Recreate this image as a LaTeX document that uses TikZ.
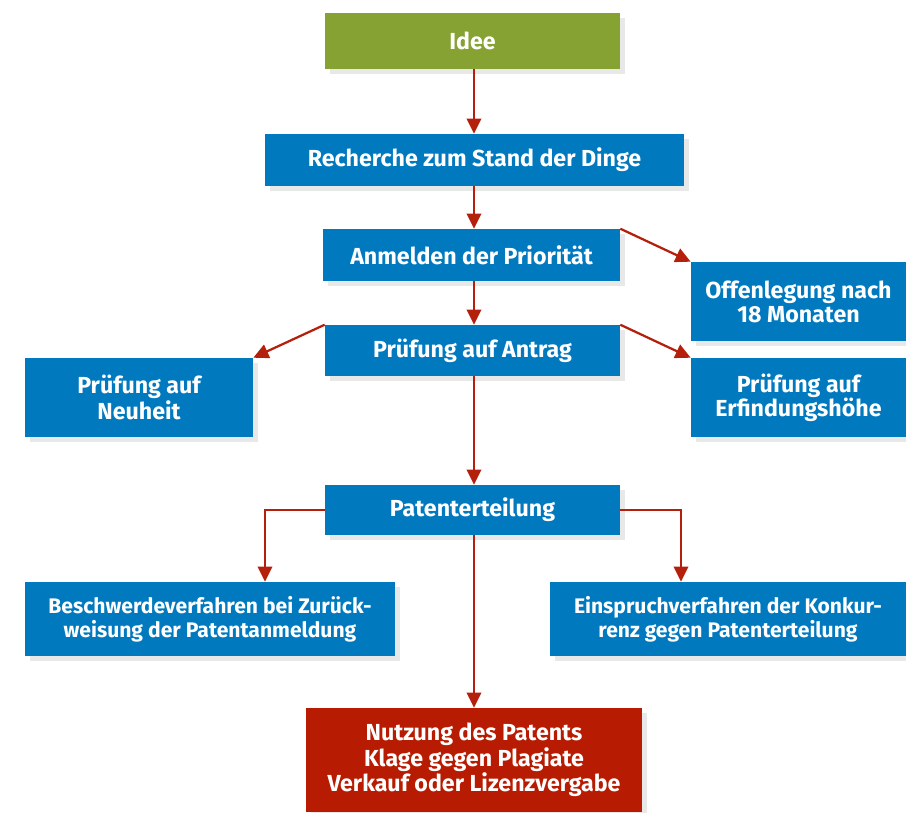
\documentclass[tikz,border=0pt]{standalone}
\usepackage{fontspec}
\setmainfont{Fira Sans}
\usetikzlibrary{positioning, arrows.meta, shadows}
\definecolor{boxblue}{HTML}{0079BF}
\definecolor{ideagreen}{HTML}{86A233}
\definecolor{endred}{HTML}{B71C02}
\definecolor{arrowred}{HTML}{B5200D}

\begin{document}
\begin{tikzpicture}[x=0.025cm, y=-0.025cm,
		box/.style={rectangle, fill=boxblue, text=white, align=center, inner sep=0pt,
			font=\fontsize{16.5}{17}\selectfont\bfseries,
			drop shadow={opacity=0.18, shadow xshift=1.2mm, shadow yshift=-1.2mm}},
		smallbox/.style={box, font=\fontsize{15}{17.2}\selectfont\bfseries},
		flow/.style={draw=arrowred, line width=1.6pt, -{Triangle[length=3.8mm, width=3.6mm]}}]
	\useasboundingbox (0,0) rectangle (906,812);
	\node (idee) [box, fill=ideagreen, minimum width=7.375cm, minimum height=1.4cm] at (472.5,41) {Idee};
	\node (recherche) [box, minimum width=10.475cm, minimum height=1.3cm] at (474.5,160) {Recherche zum Stand der Dinge};
	\node (prioritaet) [box, minimum width=7.425cm, minimum height=1.3cm] at (471.5,255) {Anmelden der Priorität};
	\node (offen) [box, minimum width=5.375cm, minimum height=1.975cm] at (798.5,301.5) {Offenlegung nach\\18 Monaten};
	\node (antrag) [box, minimum width=7.375cm, minimum height=1.275cm] at (472.5,350.5) {Prüfung auf Antrag};
	\node (neuheit) [box, minimum width=5.7cm, minimum height=1.975cm] at (139,397.5) {Prüfung auf\\Neuheit};
	\node (hoehe) [box, minimum width=5.375cm, minimum height=1.975cm] at (798.5,397.5) {Prüfung auf\\Erfindungshöhe};
	\node (erteilung) [box, minimum width=7.375cm, minimum height=1.25cm] at (472.5,510) {Patenterteilung};
	\node (beschwerde) [smallbox, minimum width=9.25cm, minimum height=1.85cm] at (210,619) {Beschwerdeverfahren bei Zurück-\\weisung der Patentanmeldung};
	\node (einspruch) [smallbox, minimum width=8.9cm, minimum height=1.85cm] at (728,619) {Einspruchverfahren der Konkur-\\renz gegen Patenterteilung};
	\node (nutzung) [box, fill=endred, minimum width=8.4cm, minimum height=2.6cm] at (474,760) {Nutzung des Patents\\Klage gegen Plagiate\\Verkauf oder Lizenzvergabe};

	% arrows
	\draw[flow] (idee.south -| 474,0) -- (recherche.north -| 474,0);
	\draw[flow] (recherche.south -| 474,0) -- (prioritaet.north -| 474,0);
	\draw[flow] (prioritaet.north east) -- (offen.north west);
	\draw[flow] (prioritaet.south -| 474,0) -- (antrag.north -| 474,0);
	\draw[flow] (antrag.north west) -- (neuheit.north east);
	\draw[flow] (antrag.north east) -- (hoehe.north west);
	\draw[flow] (antrag.south -| 474,0) -- (erteilung.north -| 474,0);
	\draw[flow] (erteilung.west) -| (beschwerde.north -| 265,0);
	\draw[flow] (erteilung.east) -| (einspruch.north -| 681,0);
	\draw[flow] (erteilung.south -| 474,0) -- (nutzung.north -| 474,0);
\end{tikzpicture}
\end{document}
